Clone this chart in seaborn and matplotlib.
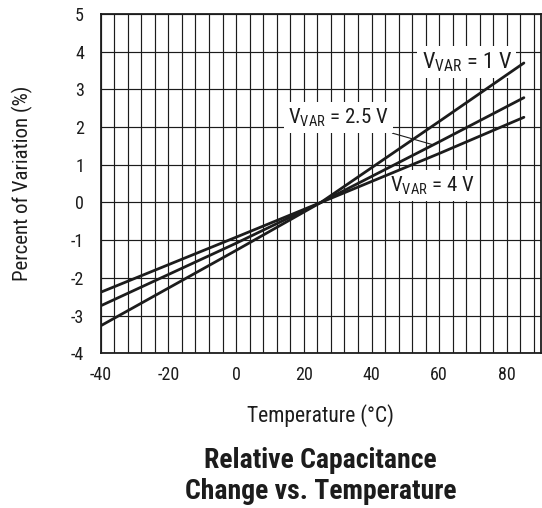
import os
import numpy as np
import pandas as pd
import seaborn as sns
import matplotlib.pyplot as plt
import matplotlib.font_manager as fm
from matplotlib.ticker import MultipleLocator

sns.set_style("white")


# the datasheet uses a condensed grotesque, take whatever narrow face is installed
def pick_font(candidates):
    files = {os.path.basename(f.fname).lower(): f for f in fm.fontManager.ttflist}
    for c in candidates:
        for base, f in files.items():
            if base.startswith(c.lower()):
                return f
    return None


reg = pick_font(["RobotoCondensed-Regular", "LiberationSansNarrow-Regular",
                 "DejaVuSansCondensed.", "Roboto-Regular"])
bold = pick_font(["RobotoCondensed-Bold", "LiberationSansNarrow-Bold.",
                  "DejaVuSansCondensed-Bold.", "Roboto-Bold."])

if reg is not None:
    plt.rcParams['font.family'] = [reg.name, 'DejaVu Sans']
    plt.rcParams['font.stretch'] = reg.stretch
    plt.rcParams['mathtext.fontset'] = 'custom'
    plt.rcParams['mathtext.rm'] = f"{reg.name}:stretch={reg.stretch}"
plt.rcParams['axes.unicode_minus'] = False
title_font = fm.FontProperties(fname=bold.fname) if bold is not None else fm.FontProperties(weight="bold")
title_font.set_size(20)

# values
temp = [-40, 0, 25, 60, 85]
v_1 = [-3.27, -1.27, 0.0, 2.15, 3.70]
v_25 = [-2.74, -1.08, 0.0, 1.61, 2.78]
v_4 = [-2.38, -0.92, 0.0, 1.30, 2.26]
series = ["1 V", "2.5 V", "4 V"]

df = pd.DataFrame({
    "temp": temp * 3,
    "pct": v_1 + v_25 + v_4,
    "vvar": [s for s in series for _ in temp],
})

ink = "#1c1c1c"

fig = plt.figure(figsize=(5.42, 5.08), dpi=100)
ax = fig.add_axes([0.1858, 0.3045, 0.812, 0.668])

sns.lineplot(data=df, x="temp", y="pct", hue="vvar", palette=[ink] * 3,
             legend=False, estimator=None, linewidth=2.0, ax=ax, zorder=4)

ax.set_xlim(-40, 90)
ax.set_ylim(-4, 5)
ax.xaxis.set_major_locator(MultipleLocator(20))
ax.xaxis.set_minor_locator(MultipleLocator(4))
ax.yaxis.set_major_locator(MultipleLocator(1))
ax.set_xticks([-40, -20, 0, 20, 40, 60, 80])
ax.grid(True, which="both", axis="x", color=ink, linewidth=0.85)
ax.grid(True, which="major", axis="y", color=ink, linewidth=0.85)
ax.tick_params(which="both", length=0, labelsize=13, colors=ink)
ax.tick_params(axis="x", pad=9)
ax.tick_params(axis="y", pad=12)
for sp in ax.spines.values():
    sp.set_color(ink)
    sp.set_linewidth(1.3)

ax.set_xlabel("Temperature (°C)", fontsize=15.5, color=ink)
ax.xaxis.set_label_coords(0.5, -0.182)
ax.xaxis.label.set_va("center")
ax.set_ylabel("Percent of Variation (%)", fontsize=15, color=ink)
ax.yaxis.set_label_coords(-0.178, 0.5)
ax.yaxis.label.set_va("center")

box = dict(facecolor="white", edgecolor="none", pad=3)
ax.text(68.1, 3.72, r"V$_{\mathrm{VAR}}$ = 1 V", fontsize=16, color=ink,
        ha="center", va="center", bbox=box, zorder=3)
ax.text(58.0, 0.45, r"V$_{\mathrm{VAR}}$ = 4 V", fontsize=15, color=ink,
        ha="center", va="center", bbox=box, zorder=3)
ax.annotate(r"V$_{\mathrm{VAR}}$ = 2.5 V", xy=(58.2, 1.53), xytext=(30.2, 2.25),
            fontsize=15, color=ink, ha="center", va="center", bbox=box, zorder=3,
            arrowprops=dict(arrowstyle="-", color=ink, lw=0.8, shrinkA=0, shrinkB=0))

fig.text(0.5918, 0.063, "Relative Capacitance\nChange vs. Temperature",
         fontproperties=title_font, color=ink, ha="center", va="center",
         linespacing=1.15)

fig.savefig("out.png", dpi=100)
